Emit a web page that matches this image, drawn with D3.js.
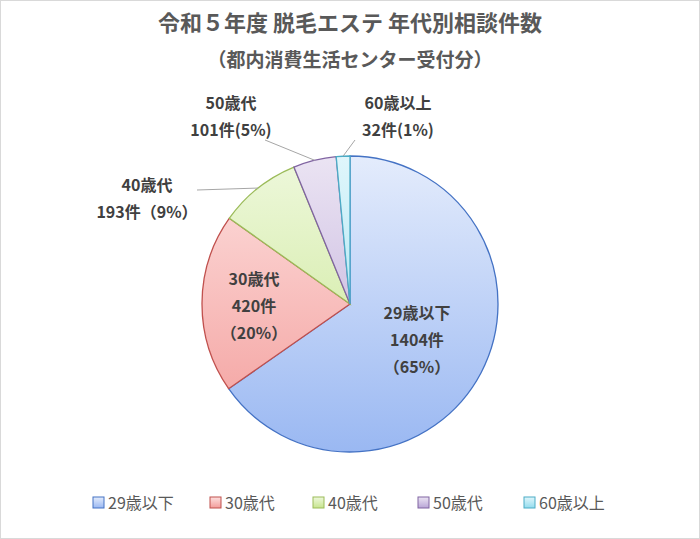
<!DOCTYPE html>
<html><head><meta charset="utf-8">
<script src="https://cdn.jsdelivr.net/npm/d3@7"></script>
<style>body{margin:0;background:#fff}svg{font-family:"Noto Sans CJK JP","Noto Sans",sans-serif}</style>
</head><body><div id="chart"></div>
<script>
const categories = ["29歳以下", "30歳代", "40歳代", "50歳代", "60歳以上"];
const counts = [1404, 420, 193, 101, 32];
const percents = ["65%", "20%", "9%", "5%", "1%"];
const strokes = ["#4472c4", "#c0504d", "#9bbb59", "#8064a2", "#4bacc6"];
const lights = ["#e4ecfc", "#fde0df", "#eef8dc", "#ebe4f3", "#e0f6fb"];
const darks = ["#9ab8f2", "#f39c9a", "#c7e58e", "#b9a5d6", "#93dcee"];

const W = 700, H = 539;
const svg = d3.select("#chart").append("svg").attr("width", W).attr("height", H);
svg.append("rect").attr("x", 0.5).attr("y", 0.5).attr("width", W - 1).attr("height", H - 1)
  .attr("fill", "#fff").attr("stroke", "#d9d9d9");

const defs = svg.append("defs");
categories.forEach((c, i) => {
  const g = defs.append("linearGradient").attr("id", "g" + i)
    .attr("gradientUnits", "userSpaceOnUse").attr("x1", 0).attr("y1", -148).attr("x2", 0).attr("y2", 148);
  g.append("stop").attr("offset", "0").attr("stop-color", lights[i]);
  g.append("stop").attr("offset", "1").attr("stop-color", darks[i]);
  const lgd = defs.append("linearGradient").attr("id", "lg" + i).attr("x1", 0).attr("y1", 0).attr("x2", 0).attr("y2", 1);
  lgd.append("stop").attr("offset", "0").attr("stop-color", lights[i]);
  lgd.append("stop").attr("offset", "1").attr("stop-color", darks[i]);
});

svg.append("text").attr("x", 350).attr("y", 31).attr("text-anchor", "middle")
  .attr("font-size", 22).attr("font-weight", "bold").attr("fill", "#595959").text("令和５年度 脱毛エステ 年代別相談件数");
svg.append("text").attr("x", 350).attr("y", 67).attr("text-anchor", "middle")
  .attr("font-size", 19).attr("font-weight", "bold").attr("fill", "#595959").text("（都内消費生活センター受付分）");

const cx = 350, cy = 304, r = 148;
const data = categories.map((c, i) => ({ c, v: counts[i], p: percents[i], i }));
const pie = d3.pie().sort(null).value(d => d.v);
const arcs = pie(data);
const arc = d3.arc().innerRadius(0).outerRadius(r);
const g = svg.append("g").attr("transform", `translate(${cx},${cy})`);
g.selectAll("path").data(arcs).join("path").attr("d", arc)
  .attr("fill", d => `url(#g${d.data.i})`).attr("stroke", d => strokes[d.data.i]).attr("stroke-width", 1.3);

// labels
const lab = [
  { i: 0, x: 417, y: 319, lines: ["29歳以下", "1404件", "（65%）"] },
  { i: 1, x: 254, y: 285, lines: ["30歳代", "420件", "（20%）"] },
  { i: 2, x: 147, y: 191, lines: ["40歳代", "193件（9%）"] },
  { i: 3, x: 231, y: 109, lines: ["50歳代", "101件(5%)"] },
  { i: 4, x: 398, y: 109, lines: ["60歳以上", "32件(1%)"] }
];
const ends = { 2: [197, 190], 3: [265, 140], 4: [355, 140] };
lab.forEach(l => {
  if (ends[l.i]) {
    const a = arcs[l.i], m = (a.startAngle + a.endAngle) / 2;
    const px = cx + Math.sin(m) * r, py = cy - Math.cos(m) * r;
    svg.append("polyline").attr("fill", "none").attr("stroke", "#a6a6a6")
      .attr("points", `${ends[l.i][0]},${ends[l.i][1]} ${px},${py}`);
  }
  const t = svg.append("text").attr("text-anchor", "middle").attr("font-size", 16)
    .attr("font-weight", "bold").attr("fill", "#404040");
  l.lines.forEach((s, k) => t.append("tspan").attr("x", l.x).attr("y", l.y + k * 27).text(s));
});

// legend
const lx = [93, 210, 313, 418, 524];
const lg = svg.append("g");
categories.forEach((c, i) => {
  lg.append("rect").attr("x", lx[i]).attr("y", 497).attr("width", 11).attr("height", 11)
    .attr("fill", `url(#lg${i})`).attr("stroke", strokes[i]);
  lg.append("text").attr("x", lx[i] + 15).attr("y", 509).attr("font-size", 16).attr("fill", "#595959").text(c);
});
</script></body></html>
